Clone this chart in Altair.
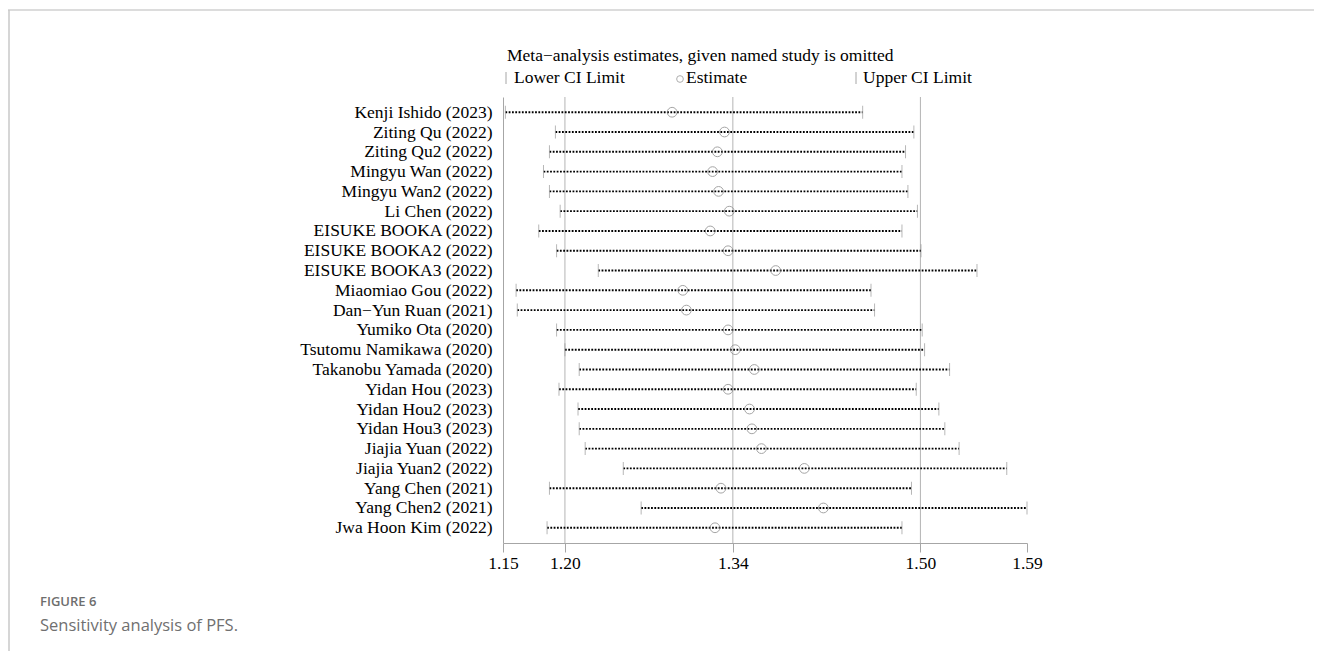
import altair as alt
import pandas as pd

# ---------------- data ----------------
studies = [
    "Kenji Ishido (2023)", "Ziting Qu (2022)", "Ziting Qu2 (2022)", "Mingyu Wan (2022)",
    "Mingyu Wan2 (2022)", "Li Chen (2022)", "EISUKE BOOKA (2022)", "EISUKE BOOKA2 (2022)",
    "EISUKE BOOKA3 (2022)", "Miaomiao Gou (2022)", "Dan\u2212Yun Ruan (2021)", "Yumiko Ota (2020)",
    "Tsutomu Namikawa (2020)", "Takanobu Yamada (2020)", "Yidan Hou (2023)", "Yidan Hou2 (2023)",
    "Yidan Hou3 (2023)", "Jiajia Yuan (2022)", "Jiajia Yuan2 (2022)", "Yang Chen (2021)",
    "Yang Chen2 (2021)", "Jwa Hoon Kim (2022)",
]
lower = [1.152, 1.194, 1.189, 1.184, 1.189, 1.198, 1.180, 1.195, 1.230, 1.161, 1.162,
         1.195, 1.202, 1.214, 1.197, 1.213, 1.214, 1.219, 1.251, 1.189, 1.266, 1.187]
estimate = [1.292, 1.336, 1.330, 1.326, 1.331, 1.340, 1.324, 1.339, 1.379, 1.301, 1.304,
            1.339, 1.345, 1.361, 1.339, 1.357, 1.359, 1.367, 1.403, 1.333, 1.419, 1.328]
upper = [1.452, 1.495, 1.488, 1.485, 1.490, 1.498, 1.485, 1.501, 1.548, 1.459, 1.462,
         1.502, 1.504, 1.525, 1.497, 1.516, 1.521, 1.533, 1.573, 1.493, 1.590, 1.485]
overall = [1.202, 1.343, 1.5005]          # overall lower CI, estimate, upper CI
tick_values = [1.15, 1.202, 1.343, 1.5005, 1.59]
x_domain = [1.15, 1.59]

title_text = "Meta\u2212analysis estimates, given named study is omitted"
legend_texts = ["Lower CI Limit", "Estimate", "Upper CI Limit"]
caption_head = "FIGURE 6"
caption_text = "Sensitivity analysis of PFS."

# ---------------- chart ----------------
df = pd.DataFrame({"study": studies, "lower": lower, "estimate": estimate, "upper": upper})
W, H = 524, 446
SERIF = "Liberation Serif"
FS = 17.5
GRAY = "#a6a6a6"

x_scale = alt.Scale(domain=x_domain, nice=False, zero=False)
y_scale = alt.Scale(type="point", domain=studies, padding=0.77)

x_axis = alt.Axis(values=tick_values, format=".2f", grid=False, domainColor=GRAY,
                  tickColor=GRAY, tickSize=9, labelFont=SERIF, labelFontSize=FS,
                  labelColor="black", labelPadding=2, labelFlush=False, labelOverlap=False)
y_axis = alt.Axis(ticks=False, grid=False, domainColor=GRAY, labelFont=SERIF,
                  labelFontSize=FS, labelColor="black", labelPadding=11, labelLimit=400)

base = alt.Chart(df)

grid = alt.Chart(pd.DataFrame({"v": overall})).mark_rule(color="#b4b4b4", strokeWidth=1).encode(
    x=alt.X("v:Q", scale=x_scale, axis=x_axis, title=None),
    y=alt.value(0), y2=alt.value(H))

dots = base.mark_rule(color="#000000", strokeWidth=1.9, strokeDash=[1.8, 1.5]).encode(
    x=alt.X("lower:Q", scale=x_scale, axis=x_axis, title=None),
    x2="upper:Q",
    y=alt.Y("study:N", scale=y_scale, sort=studies, axis=y_axis, title=None))

low_ticks = base.mark_tick(color="#999999", thickness=1, size=13).encode(
    x=alt.X("lower:Q", scale=x_scale), y=alt.Y("study:N", scale=y_scale, sort=studies))
up_ticks = base.mark_tick(color="#999999", thickness=1, size=13).encode(
    x=alt.X("upper:Q", scale=x_scale), y=alt.Y("study:N", scale=y_scale, sort=studies))
circles = base.mark_point(shape="circle", filled=False, size=95, color="#808080",
                          strokeWidth=1).encode(
    x=alt.X("estimate:Q", scale=x_scale), y=alt.Y("study:N", scale=y_scale, sort=studies))


def text_layer(txt, x, y, size=FS, font=SERIF, color="black", weight="normal"):
    return alt.Chart(pd.DataFrame({"t": [txt]})).mark_text(
        align="left", baseline="middle", font=font, fontSize=size, color=color,
        fontWeight=weight).encode(x=alt.value(x), y=alt.value(y), text="t:N")


one = pd.DataFrame({"a": [0]})
title = text_layer(title_text, 4, -41)
leg_low_sym = alt.Chart(one).mark_rule(color=GRAY, strokeWidth=1).encode(
    x=alt.value(3), y=alt.value(-25), y2=alt.value(-13))
leg_low = text_layer(legend_texts[0], 11, -19)
leg_est_sym = alt.Chart(one).mark_point(shape="circle", filled=False, size=45, color="#8c8c8c",
                                        strokeWidth=1).encode(x=alt.value(177), y=alt.value(-18))
leg_est = text_layer(legend_texts[1], 183, -19)
leg_up_sym = alt.Chart(one).mark_rule(color=GRAY, strokeWidth=1).encode(
    x=alt.value(353), y=alt.value(-25), y2=alt.value(-13))
leg_up = text_layer(legend_texts[2], 360, -19)

frame_top = alt.Chart(one).mark_rule(color="#d0d0d0", strokeWidth=1.5).encode(
    x=alt.value(-495), x2=alt.value(811), y=alt.value(-87))
frame_left = alt.Chart(one).mark_rule(color="#c8c8c8", strokeWidth=1.5).encode(
    x=alt.value(-494), y=alt.value(-87), y2=alt.value(560))

cap1 = text_layer(caption_head, -463, 505, size=13, font="Open Sans", color="#6e6e6e", weight=600)
cap2 = text_layer(caption_text, -463, 529, size=16.5, font="Open Sans", color="#707070")

chart = alt.layer(
    frame_top, frame_left, grid, dots, low_ticks, up_ticks, circles,
    title, leg_low_sym, leg_low, leg_est_sym, leg_est, leg_up_sym, leg_up, cap1, cap2,
).properties(
    width=W, height=H,
    autosize=alt.AutoSizeParams(type="none"),
    padding={"left": 495, "top": 89, "right": 287, "bottom": 108},
).configure_view(stroke=None)

chart.save("out.html", embed_options={"renderer": "svg", "actions": False})
